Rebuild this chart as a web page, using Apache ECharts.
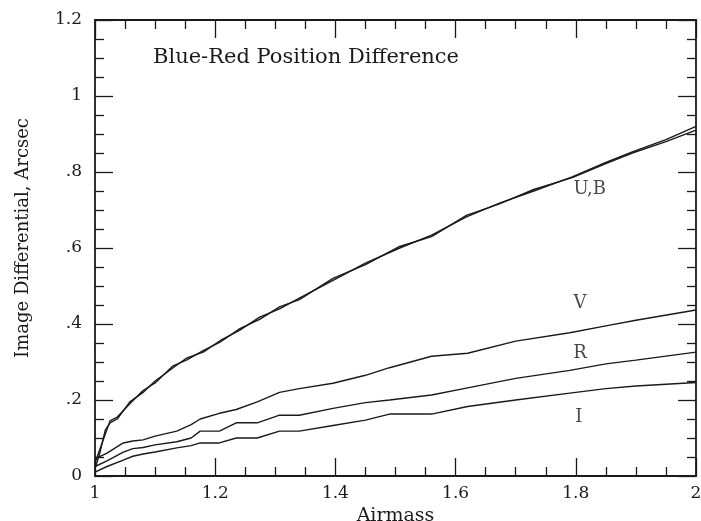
<!DOCTYPE html>
<html>
<head>
<meta charset="utf-8">
<script src="https://cdn.jsdelivr.net/npm/echarts@6/dist/echarts.min.js"></script>
<style>
  html, body { margin: 0; padding: 0; background: #fff; }
  #chart { width: 701px; height: 521px; }
</style>
</head>
<body>
<div id="chart"></div>
<script>
// airmass samples for the U and B curves
const airmassUB = [1.00, 1.008, 1.017, 1.025, 1.037, 1.058, 1.08, 1.10, 1.13, 1.152, 1.18, 1.208, 1.241, 1.274,
  1.307, 1.34, 1.396, 1.45, 1.507, 1.56, 1.618, 1.673, 1.73, 1.794, 1.85, 1.894, 1.95, 2.00];
const uValues = [0.02, 0.06, 0.12, 0.14, 0.15, 0.195, 0.22, 0.25, 0.285, 0.31, 0.326, 0.356, 0.384, 0.418,
  0.44, 0.468, 0.515, 0.56, 0.6, 0.634, 0.682, 0.718, 0.75, 0.787, 0.825, 0.853, 0.885, 0.92];
const bValues = [0.035, 0.07, 0.11, 0.145, 0.155, 0.19, 0.225, 0.245, 0.29, 0.305, 0.33, 0.352, 0.388, 0.412,
  0.445, 0.464, 0.52, 0.556, 0.604, 0.63, 0.686, 0.716, 0.754, 0.785, 0.822, 0.85, 0.88, 0.91];

// airmass samples for V, R, I
const airmassVRI = [1.00, 1.02, 1.047, 1.063, 1.08, 1.10, 1.136, 1.16, 1.175, 1.207, 1.235, 1.27, 1.307, 1.34,
  1.396, 1.45, 1.49, 1.56, 1.62, 1.70, 1.79, 1.85, 1.90, 2.00];
const vValues = [0.045, 0.06, 0.087, 0.092, 0.095, 0.105, 0.118, 0.135, 0.15, 0.165, 0.175, 0.195, 0.22, 0.23,
  0.244, 0.265, 0.285, 0.315, 0.323, 0.355, 0.377, 0.395, 0.41, 0.437];
const rValues = [0.025, 0.04, 0.063, 0.072, 0.075, 0.082, 0.09, 0.1, 0.118, 0.118, 0.14, 0.14, 0.16, 0.16,
  0.178, 0.193, 0.2, 0.213, 0.232, 0.257, 0.278, 0.295, 0.305, 0.326];
const iValues = [0.01, 0.025, 0.042, 0.052, 0.058, 0.063, 0.074, 0.08, 0.087, 0.087, 0.1, 0.1, 0.118, 0.118,
  0.133, 0.147, 0.163, 0.163, 0.183, 0.2, 0.218, 0.23, 0.237, 0.246];

// curve labels: text, airmass, value
const curveLabels = [['U,B', 1.823, 0.755], ['V', 1.807, 0.455], ['R', 1.807, 0.324], ['I', 1.805, 0.155]];

const FONT = 'DejaVu Serif';
const INK = '#1a1a1a';

function pairs(xs, ys) {
  return xs.map((x, i) => [x, ys[i]]);
}

function curve(name, xs, ys) {
  return {
    name: name,
    type: 'line',
    data: pairs(xs, ys),
    showSymbol: false,
    symbol: 'none',
    lineStyle: { color: INK, width: 1.4 },
    animation: false
  };
}

const tickLine = { color: INK, width: 1.3 };

function xAx(pos, showLabel) {
  return {
    type: 'value', position: pos, min: 1, max: 2, interval: 0.2,
    name: showLabel ? 'Airmass' : '', nameLocation: 'middle', nameGap: 20,
    nameTextStyle: { fontFamily: FONT, fontSize: 19, color: INK },
    axisLine: { show: true, onZero: false, lineStyle: { color: INK, width: 1.8 } },
    axisTick: { show: true, inside: true, length: 18, lineStyle: tickLine },
    minorTick: { show: true, splitNumber: 4, length: 9, lineStyle: tickLine },
    axisLabel: {
      show: showLabel, fontFamily: FONT, fontSize: 17, color: INK, margin: 9,
      formatter: v => (Math.round(v * 10) / 10).toString()
    },
    splitLine: { show: false }
  };
}

function yAx(pos, showLabel) {
  return {
    type: 'value', position: pos, min: 0, max: 1.2, interval: 0.2,
    name: showLabel ? 'Image Differential, Arcsec' : '', nameLocation: 'middle', nameGap: 63,
    nameTextStyle: { fontFamily: FONT, fontSize: 18, color: INK, padding: [0, 0, 0, 20] },
    axisLine: { show: true, onZero: false, lineStyle: { color: INK, width: 1.8 } },
    axisTick: { show: true, inside: true, length: 18, lineStyle: tickLine },
    minorTick: { show: true, splitNumber: 4, length: 9, lineStyle: tickLine },
    axisLabel: {
      show: showLabel, fontFamily: FONT, fontSize: 17, color: INK, margin: 13,
      formatter: v => {
        let s = (Math.round(v * 10) / 10).toString();
        return s.startsWith('0.') ? s.slice(1) : s;
      }
    },
    splitLine: { show: false }
  };
}

let myChart = echarts.init(document.getElementById('chart'));

let option = {
  backgroundColor: '#fff',
  grid: { left: 95, right: 5, top: 20, bottom: 45, outerBoundsMode: 'none', containLabel: false },
  xAxis: [xAx('bottom', true), xAx('top', false)],
  yAxis: [yAx('left', true), yAx('right', false)],
  graphic: [{
    type: 'text', left: 153, top: 47,
    style: { text: 'Blue-Red Position Difference', font: '21px "DejaVu Serif"', fill: INK }
  }],
  series: [
    curve('U', airmassUB, uValues),
    curve('B', airmassUB, bValues),
    curve('V', airmassVRI, vValues),
    curve('R', airmassVRI, rValues),
    curve('I', airmassVRI, iValues),
    {
      // curve names placed next to the lines
      type: 'scatter',
      symbolSize: 0,
      animation: false,
      silent: true,
      data: curveLabels.map(d => ({ value: [d[1], d[2]], name: d[0] })),
      label: {
        show: true, position: 'inside', formatter: p => p.name,
        fontFamily: FONT, fontSize: 18, color: INK
      }
    }
  ]
};

myChart.setOption(option);
</script>
</body>
</html>
